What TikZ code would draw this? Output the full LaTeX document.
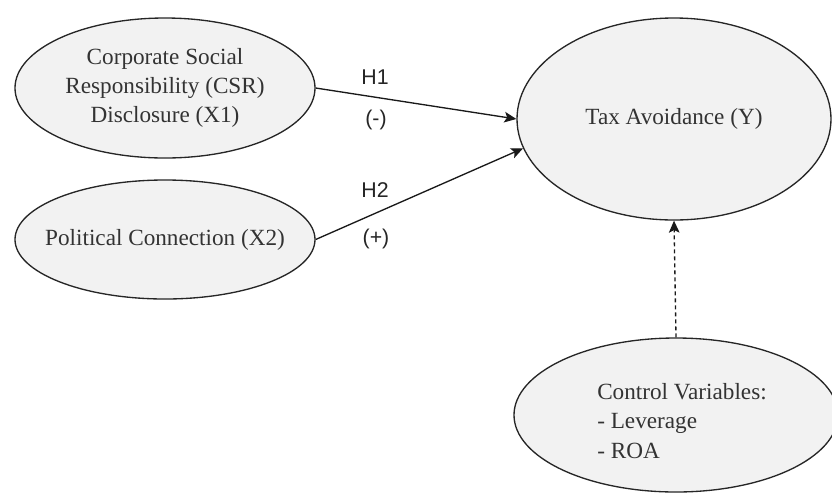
\documentclass[tikz,border=0pt]{standalone}
\usepackage{fontspec}
\setmainfont{Liberation Serif}
\newfontfamily\lblfont{Liberation Sans}
\usetikzlibrary{shapes.geometric,arrows.meta}
\definecolor{fillgray}{HTML}{F2F2F2}
\definecolor{txtgray}{HTML}{333333}
\begin{document}
\begin{tikzpicture}[x=0.75pt,y=-0.75pt,
  var/.style={ellipse,draw=black!85,line width=1pt,fill=fillgray,inner ysep=0pt,inner xsep=-20pt,
    text=txtgray,align=center,font=\fontsize{17.4}{21.8}\selectfont},
  lbl/.style={font=\lblfont\fontsize{16}{19}\selectfont,text=black!85,inner sep=0pt},
  conn/.style={line width=1pt,draw=black!90,-{Stealth[length=9pt,width=8pt,inset=2pt]}}
]
\useasboundingbox (0,0) rectangle (832,494);
\node[var,minimum width=225pt,minimum height=105pt] (csr) at (165,88)
  {Corporate Social\\Responsibility (CSR)\\Disclosure (X1)};
\node[var,minimum width=225pt,minimum height=89.25pt] (pc) at (165,239.5)
  {Political Connection (X2)};
\node[var,minimum width=235.5pt,minimum height=151.5pt] (tax) at (674,119)
  {Tax Avoidance (Y)};
\node[var,minimum width=243pt,minimum height=115.5pt] (ctrl) at (676,415) {};
\node[text=txtgray,align=left,inner sep=0pt,font=\fontsize{17.4}{21.8}\selectfont,anchor=west] (ctrltext) at (597,421)
  {Control Variables:\\- Leverage\\- ROA};
\draw[conn] (csr.east) -- (tax.west);
\draw[conn] (pc.east) -- (tax.191);
\draw[conn,dashed,dash pattern=on 3pt off 2.25pt] (ctrl.north) -- (tax.south);
\node[lbl] (h1) at (375,77) {H1};
\node[lbl] (m1) at (376,120) {(-)};
\node[lbl] (h2) at (375,190) {H2};
\node[lbl] (p2) at (376,239) {(+)};
\end{tikzpicture}
\end{document}
